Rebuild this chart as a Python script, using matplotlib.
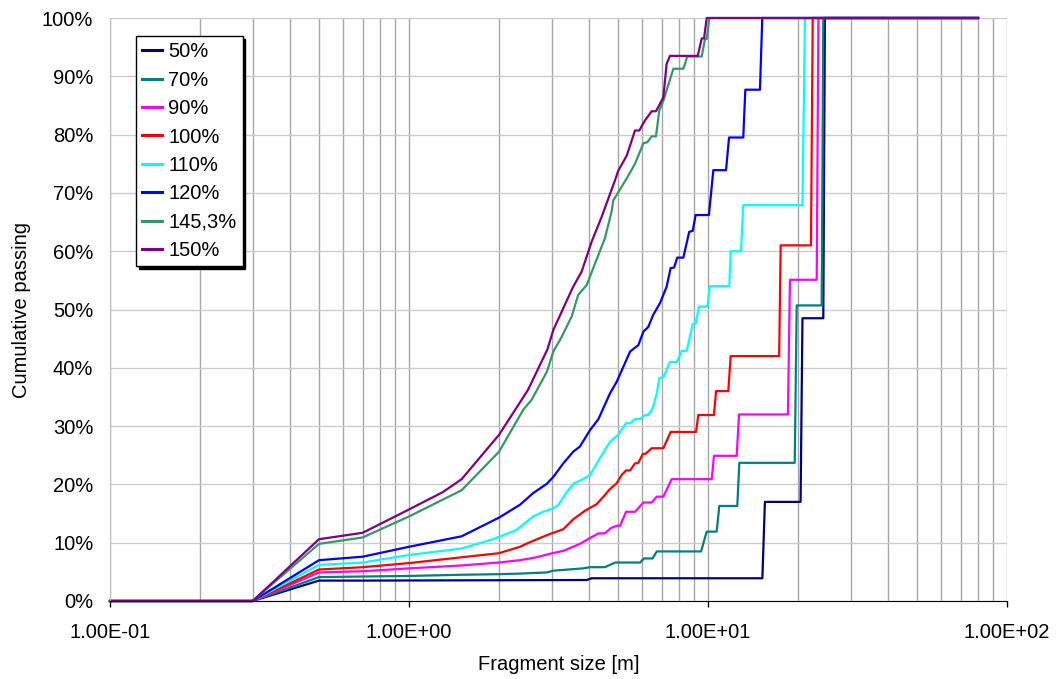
import matplotlib
matplotlib.use("Agg")
import matplotlib.pyplot as plt

plt.rcParams['font.family'] = ['Liberation Sans', 'DejaVu Sans']

# Fragment size distributions (size in m, cumulative passing in %)
size_50 = [0.1, 0.3, 0.5, 0.7, 3.93, 4.08, 15.2, 15.5, 20.4, 20.7, 24.3, 24.6, 80]
pass_50 = [0, 0, 3.5, 3.5, 3.6, 3.9, 3.9, 17.0, 17.0, 48.5, 48.5, 100, 100]

size_70 = [0.1, 0.3, 0.5, 0.7, 1.0, 1.5, 2.0, 2.35, 2.89, 3.04, 3.83, 4.03, 4.52, 4.89, 5.93,
           6.11, 6.53, 6.74, 9.48, 9.90, 10.69, 10.91, 12.53, 12.73, 19.5, 19.8, 24.0, 24.3, 80]
pass_70 = [0, 0, 4.1, 4.2, 4.3, 4.5, 4.6, 4.7, 4.9, 5.2, 5.6, 5.8, 5.8, 6.6, 6.6,
           7.3, 7.3, 8.5, 8.5, 11.9, 11.9, 16.3, 16.3, 23.7, 23.7, 50.7, 50.7, 100, 100]

size_90 = [0.1, 0.3, 0.5, 0.7, 1.0, 1.5, 2.0, 2.35, 2.67, 2.96, 3.28, 3.73, 4.03, 4.30, 4.52,
           4.73, 4.95, 5.08, 5.32, 5.70, 6.08, 6.48, 6.74, 7.09, 7.56, 10.29, 10.47, 12.47,
           12.70, 18.5, 18.8, 23.1, 23.4, 80]
pass_90 = [0, 0, 4.9, 5.1, 5.6, 6.1, 6.6, 7.0, 7.5, 8.1, 8.6, 9.8, 10.8, 11.6, 11.6,
           12.5, 12.9, 12.9, 15.3, 15.3, 16.9, 16.9, 17.9, 17.9, 20.9, 20.9, 24.9, 24.9,
           32.0, 32.0, 55.1, 55.1, 100, 100]

size_100 = [0.1, 0.3, 0.5, 0.7, 1.0, 1.5, 2.0, 2.35, 2.54, 2.74, 2.96, 3.28, 3.54, 3.88,
            4.24, 4.47, 4.70, 4.95, 5.14, 5.32, 5.49, 5.70, 5.85, 6.05, 6.20, 6.48, 7.09,
            7.50, 9.12, 9.28, 10.47, 10.64, 11.69, 11.91, 17.3, 17.5, 22.1, 22.4, 80]
pass_100 = [0, 0, 5.4, 5.8, 6.5, 7.5, 8.2, 9.3, 10.1, 10.8, 11.5, 12.3, 14.0, 15.5,
            16.6, 17.9, 19.2, 20.2, 21.6, 22.4, 22.4, 23.6, 23.7, 25.2, 25.3, 26.2, 26.2,
            29.0, 29.0, 31.9, 31.9, 36.0, 36.0, 42.0, 42.0, 61.0, 61.0, 100, 100]

size_110 = [0.1, 0.3, 0.5, 0.7, 1.0, 1.5, 1.91, 2.29, 2.60, 2.81, 3.04, 3.16, 3.32, 3.54,
            3.78, 4.03, 4.35, 4.70, 5.01, 5.32, 5.49, 5.70, 5.93, 6.15, 6.31, 6.53, 6.74,
            6.87, 7.09, 7.46, 7.86, 8.17, 8.49, 8.89, 9.09, 9.33, 9.95, 10.15, 11.78, 11.91,
            12.89, 13.12, 20.7, 21.1, 80]
pass_110 = [0, 0, 6.2, 6.6, 7.9, 9.0, 10.6, 12.2, 14.5, 15.3, 15.9, 16.5, 18.2, 20.1,
            20.8, 21.6, 24.5, 27.3, 28.5, 30.5, 30.5, 31.2, 31.2, 31.9, 31.9, 33.1, 35.6,
            38.2, 38.4, 41.0, 41.0, 42.9, 42.9, 47.5, 47.6, 50.5, 50.5, 54.0, 54.0, 60.0,
            60.0, 67.9, 67.9, 100, 100]

size_120 = [0.1, 0.3, 0.5, 0.7, 1.0, 1.5, 2.0, 2.35, 2.60, 2.89, 3.04, 3.28, 3.54, 3.73,
            4.03, 4.30, 4.70, 4.95, 5.49, 5.85, 6.08, 6.31, 6.56, 6.91, 7.27, 7.50, 7.70,
            7.89, 8.27, 8.65, 8.89, 9.09, 10.07, 10.42, 11.49, 11.76, 13.12, 13.33, 14.92,
            15.19, 80]
pass_120 = [0, 0, 7.0, 7.6, 9.3, 11.1, 14.3, 16.5, 18.5, 20.1, 21.3, 23.6, 25.6, 26.5,
            29.3, 31.2, 35.6, 37.6, 42.8, 43.9, 46.2, 47.0, 49.1, 51.1, 53.9, 57.1, 57.2,
            58.9, 58.9, 63.3, 63.5, 66.2, 66.2, 73.9, 73.9, 79.5, 79.5, 87.7, 87.7,
            100, 100]

size_145 = [0.1, 0.3, 0.5, 0.7, 1.0, 1.5, 2.0, 2.41, 2.57, 2.89, 3.04, 3.24, 3.50, 3.68,
            3.93, 4.19, 4.52, 4.76, 4.82, 5.01, 5.35, 5.70, 6.08, 6.27, 6.48, 6.70, 6.87,
            7.09, 7.66, 8.27, 8.53, 9.53, 9.77, 9.90, 10.1, 80]
pass_145 = [0, 0, 9.8, 10.9, 14.5, 19.0, 25.6, 32.8, 34.5, 39.3, 42.8, 45.3, 48.8, 52.5,
            54.2, 57.9, 62.2, 66.8, 68.7, 70.1, 72.5, 75.0, 78.5, 78.7, 79.7, 79.7, 84.1,
            85.8, 91.3, 91.3, 93.4, 93.4, 96.4, 96.4, 100, 100]

size_150 = [0.1, 0.3, 0.5, 0.7, 1.0, 1.3, 1.5, 2.0, 2.5, 2.9, 3.04, 3.28, 3.54, 3.78,
            4.08, 4.41, 4.89, 5.01, 5.35, 5.70, 5.89, 6.15, 6.48, 6.70, 7.09, 7.27, 7.46,
            9.24, 9.53, 9.70, 9.90, 80]
pass_150 = [0, 0, 10.6, 11.7, 15.7, 18.7, 20.9, 28.5, 36.2, 43.1, 46.5, 50.2, 53.9, 56.5,
            61.6, 65.9, 72.2, 73.8, 76.4, 80.7, 80.7, 82.4, 84.0, 84.0, 86.4, 92.1, 93.5,
            93.5, 96.5, 96.5, 100, 100]

series = [
    ('50%', size_50, pass_50, '#000080'),
    ('70%', size_70, pass_70, '#008080'),
    ('90%', size_90, pass_90, '#ff00ff'),
    ('100%', size_100, pass_100, '#ff0000'),
    ('110%', size_110, pass_110, '#00ffff'),
    ('120%', size_120, pass_120, '#0000ff'),
    ('145,3%', size_145, pass_145, '#339966'),
    ('150%', size_150, pass_150, '#800080'),
]

fig = plt.figure(figsize=(10.56, 6.79), dpi=100)
ax = fig.add_axes([110 / 1056, 1 - 601 / 679, 897 / 1056, 583 / 679])

for label, x, y, color in series:
    ax.plot(x, y, color=color, lw=1.6, label=label, clip_on=False)

ax.set_xscale('log')
ax.set_xlim(0.1, 100)
ax.set_ylim(0, 100)

ax.set_xticks([0.1, 1, 10, 100], labels=['1.00E-01', '1.00E+00', '1.00E+01', '1.00E+02'])
ax.set_yticks(range(0, 101, 10), labels=[f'{v}%' for v in range(0, 101, 10)])

ax.grid(True, which='both', axis='x', color='#a6a6a6', lw=1)
ax.grid(True, which='major', axis='y', color='#cccccc', lw=1)
ax.set_axisbelow(True)

ax.tick_params(axis='x', which='major', direction='out', length=4.5, width=1,
               labelsize=14.5, pad=11)
ax.tick_params(axis='x', which='minor', length=0)
ax.tick_params(axis='y', length=0, labelsize=14.5, pad=12)

for side in ['top', 'right']:
    ax.spines[side].set_visible(False)
ax.spines['left'].set_color('#c0c0c0')
ax.spines['bottom'].set_color('black')

ax.set_xlabel('Fragment size [m]', fontsize=14.5, labelpad=10)
ax.set_ylabel('Cumulative passing', fontsize=14.5, labelpad=8)

leg = ax.legend(loc='upper left', bbox_to_anchor=(0.029, 0.969), borderaxespad=0,
                fontsize=14.5, handlelength=1.0, handletextpad=0.3, borderpad=0.3,
                labelspacing=0.47, fancybox=False, framealpha=1, edgecolor='black',
                shadow={'color': 'black', 'alpha': 1})
leg.get_frame().set_linewidth(1)
for handle in leg.get_lines():
    handle.set_linewidth(2.2)

fig.savefig('out.png', dpi=100)
